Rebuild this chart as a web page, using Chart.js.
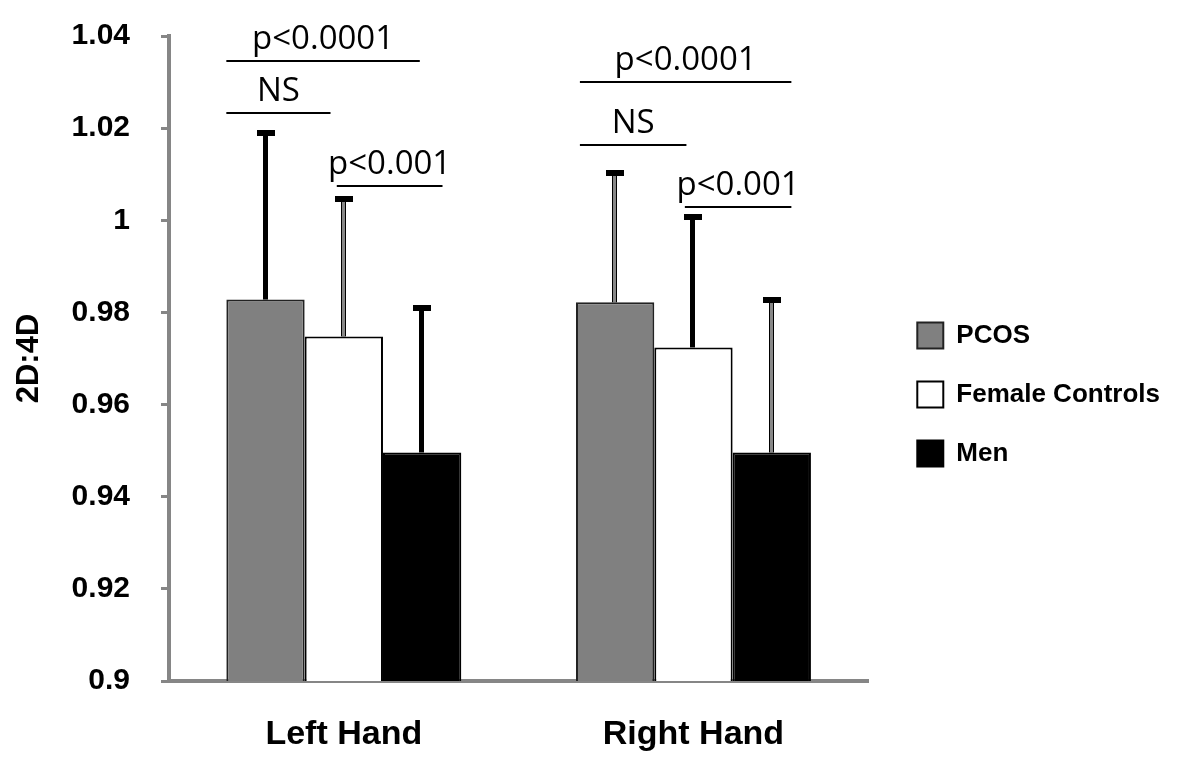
<!DOCTYPE html>
<html>
<head>
  <meta charset="utf-8">
  <title>2D:4D ratio</title>
  <script src="https://cdn.jsdelivr.net/npm/chart.js@4.4.1/dist/chart.umd.min.js"></script>
  <style>
    html, body { margin: 0; padding: 0; background: #fff; }
  </style>
</head>
<body>
  <canvas id="myChart" width="1200" height="763"></canvas>
  <script>
    // data
    const categories = ['Left Hand', 'Right Hand'];
    const pcosMean = [0.9828, 0.9822];
    const pcosSD = [0.0362, 0.0280];
    const femaleMean = [0.9748, 0.9724];
    const femaleSD = [0.0298, 0.0283];
    const menMean = [0.9496, 0.9496];
    const menSD = [0.0313, 0.0330];
    const yTicks = [0.9, 0.92, 0.94, 0.96, 0.98, 1, 1.02, 1.04];

    // significance brackets (same order for both hands)
    const sigLabels = ['p<0.0001', 'NS', 'p<0.001'];
    const sigLeftY = [1.0346, 1.0233, 1.0074];
    const sigRightY = [1.0300, 1.0163, 1.0028];

    const errorBars = {
      id: 'errorBars',
      afterDatasetsDraw(chart) {
        const ctx = chart.ctx, y = chart.scales.y;
        chart.data.datasets.forEach((ds, i) => {
          chart.getDatasetMeta(i).data.forEach((bar, j) => {
            const top = Math.round(y.getPixelForValue(ds.data[j] + ds.sd[j]));
            const x = Math.round(bar.x);
            ctx.save();
            ctx.fillStyle = '#000';
            ctx.fillRect(x - 3, top, 5, bar.y - top);
            if (ds.errColor[j] != '#000') {
              ctx.fillStyle = ds.errColor[j];
              ctx.fillRect(x - 2, top, 3, bar.y - top);
            }
            ctx.fillStyle = '#000';
            ctx.fillRect(x - 9, top - 3, 18, 6);
            ctx.restore();
          });
        });
      }
    };

    const brackets = {
      id: 'brackets',
      afterDatasetsDraw(chart, args, opts) {
        const ctx = chart.ctx, y = chart.scales.y;
        const first = chart.getDatasetMeta(0).data;
        ctx.save();
        ctx.fillStyle = '#000';
        ctx.font = '33px "Open Sans"';
        ctx.textAlign = 'center';
        ctx.textBaseline = 'alphabetic';
        [sigLeftY, sigRightY].forEach((levels, c) => {
          const bar = first[c];
          const x0 = bar.x - bar.width / 2;
          levels.forEach((v, k) => {
            const span = opts.spans[c][k];
            const py = Math.round(y.getPixelForValue(v));
            const xa = x0 + span[0] * bar.width, xb = x0 + span[1] * bar.width;
            ctx.fillRect(xa, py - 1, xb - xa, 2);
            ctx.fillText(sigLabels[k], (xa + xb) / 2, py - 12);
          });
        });
        ctx.restore();
      }
    };

    const legendShift = {
      id: 'legendShift',
      afterLayout(chart) {
        chart.legend.left += 16;
        chart.legend.right += 16;
      }
    };

    const config = {
      type: 'bar',
      data: {
        labels: categories,
        datasets: [{
          label: 'PCOS',
          data: pcosMean,
          sd: pcosSD,
          errColor: ['#000', '#888'],
          backgroundColor: '#808080',
          borderColor: '#222',
          borderWidth: 2
        }, {
          label: 'Female Controls',
          data: femaleMean,
          sd: femaleSD,
          errColor: ['#888', '#000'],
          backgroundColor: '#fff',
          borderColor: '#000',
          borderWidth: 2
        }, {
          label: 'Men',
          data: menMean,
          sd: menSD,
          errColor: ['#000', '#888'],
          backgroundColor: '#000',
          borderColor: '#000',
          borderWidth: 2
        }]
      },
      options: {
        responsive: false,
        animation: false,
        devicePixelRatio: 1,
        layout: { padding: { top: 36, right: 46, left: 0, bottom: 0 } },
        datasets: {
          bar: { categoryPercentage: 0.672, barPercentage: 1, borderSkipped: 'bottom' }
        },
        scales: {
          x: {
            grid: { display: false },
            border: { color: '#868686', width: 4 },
            ticks: { color: '#000', font: { family: 'Liberation Sans', size: 34, weight: 'bold' }, padding: 25 },
            afterFit: s => { s.height = 82; }
          },
          y: {
            min: 0.9,
            max: 1.04,
            afterBuildTicks: s => { s.ticks = yTicks.map(v => ({ value: v })); },
            grid: { drawOnChartArea: false, color: '#868686', lineWidth: 3, tickLength: 8 },
            border: { color: '#868686', width: 4 },
            ticks: {
              color: '#000',
              padding: 31,
              font: { family: 'Liberation Sans', size: 30, weight: 'bold' },
              callback: v => String(+v.toFixed(2))
            },
            title: {
              display: true,
              text: '2D:4D',
              color: '#000',
              font: { family: 'Liberation Sans', size: 31, weight: 'bold' },
              padding: { top: 11, bottom: 0 }
            },
            afterFit: s => { s.width = 169; s.paddingTop = 0; s.paddingBottom = 0; }
          }
        },
        plugins: {
          tooltip: { enabled: false },
          legend: {
            position: 'right',
            align: 'start',
            title: { display: true, text: '', padding: { top: 120, bottom: 119 } },
            labels: {
              color: '#000',
              boxWidth: 26,
              boxHeight: 26,
              padding: 33,
              font: { family: 'Liberation Sans', size: 26, weight: 'bold' }
            }
          },
          brackets: {
            spans: [
              [[0, 2.47], [0, 1.33], [1.41, 2.76]],
              [[0.05, 2.75], [0.05, 1.41], [1.39, 2.75]]
            ]
          }
        }
      },
      plugins: [errorBars, brackets, legendShift]
    };

    var chart = new Chart(document.getElementById('myChart'), config);
  </script>
</body>
</html>
